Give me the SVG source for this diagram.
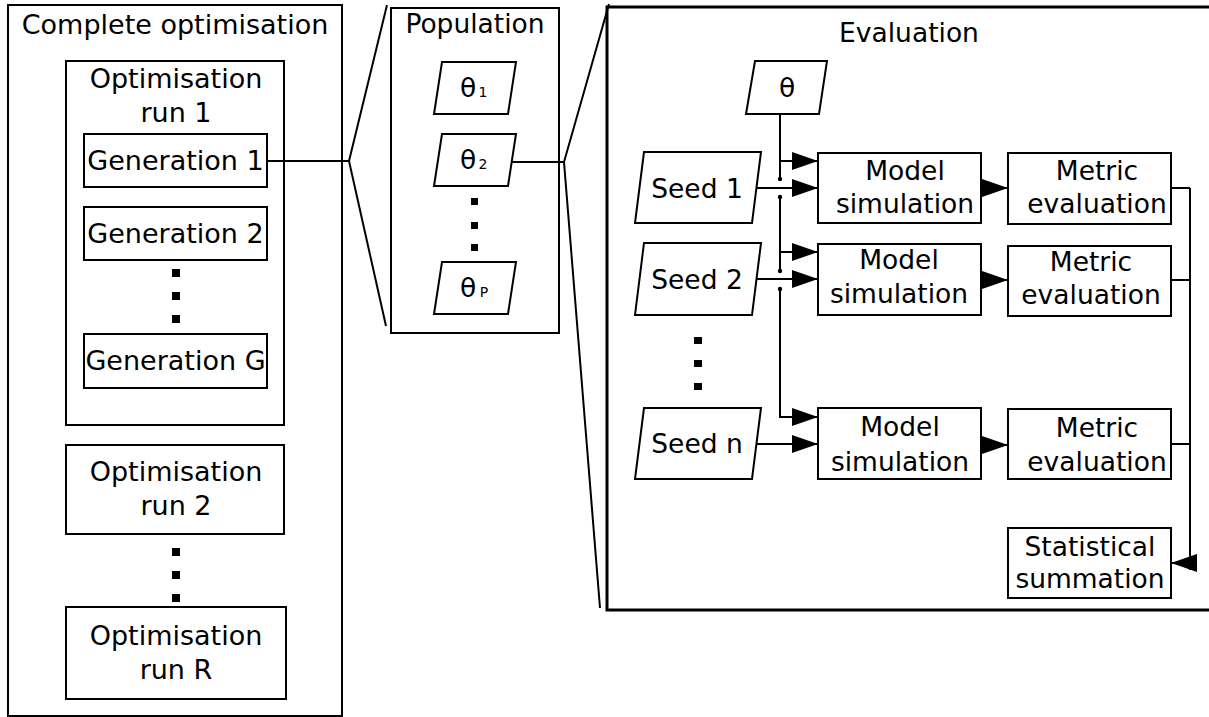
<svg xmlns="http://www.w3.org/2000/svg" width="1209" height="717" viewBox="0 0 1209 717">
<defs>
<style>
.b{fill:#fff;stroke:#000;stroke-width:2}
.t{font-family:"DejaVu Sans","Verdana",sans-serif;font-size:26.5px;fill:#000;text-anchor:middle}
.tl{font-size:27px}
.sub{font-size:14px}
.c{fill:none;stroke:#000;stroke-width:2}
.d{fill:#000}
</style>
<marker id="ah" viewBox="0 0 26 18" refX="26" refY="9" markerWidth="26" markerHeight="18" markerUnits="userSpaceOnUse" orient="auto">
<path d="M0,0 L26,9 L0,18 z" fill="#000"/>
</marker>
</defs>
<rect width="1209" height="717" fill="#fff"/>

<!-- Left panel -->
<g id="complete">
<rect class="b" x="8" y="5" width="334" height="711"/>
<text class="t tl" x="175" y="34">Complete optimisation</text>
</g>
<g id="run1">
<rect class="b" x="66" y="61" width="218" height="364"/>
<text class="t tl" x="176" y="88">Optimisation</text>
<text class="t tl" x="176" y="122">run 1</text>
</g>
<g id="gen1">
<rect class="b" x="84" y="134" width="183" height="53"/>
<text class="t tl" x="175.5" y="170">Generation 1</text>
</g>
<g id="gen2">
<rect class="b" x="84" y="207" width="183" height="53"/>
<text class="t tl" x="175.5" y="243">Generation 2</text>
</g>
<g id="genDots">
<rect class="d" x="172" y="269" width="8" height="8"/>
<rect class="d" x="172" y="292" width="8" height="8"/>
<rect class="d" x="172" y="315" width="8" height="8"/>
</g>
<g id="genG">
<rect class="b" x="84" y="334" width="183" height="54"/>
<text class="t tl" x="175.5" y="370">Generation G</text>
</g>
<g id="run2">
<rect class="b" x="66" y="445" width="218" height="89"/>
<text class="t tl" x="176" y="481">Optimisation</text>
<text class="t tl" x="176" y="515">run 2</text>
</g>
<g id="runDots">
<rect class="d" x="172" y="548" width="8" height="8"/>
<rect class="d" x="172" y="571" width="8" height="8"/>
<rect class="d" x="172" y="594" width="8" height="8"/>
</g>
<g id="runR">
<rect class="b" x="66" y="607" width="220" height="92"/>
<text class="t tl" x="176" y="645">Optimisation</text>
<text class="t tl" x="176" y="679">run R</text>
</g>

<!-- Population panel -->
<g id="population">
<rect class="b" x="391" y="8" width="168" height="325"/>
<text class="t" x="475" y="33">Population</text>
</g>
<g id="theta1">
<polygon class="b" points="442,62 516,62 508,114 434,114"/>
<text class="t" x="468" y="97">θ</text><text class="t sub" x="483" y="97">1</text>
</g>
<g id="theta2">
<polygon class="b" points="442,134 516,134 508,186 434,186"/>
<text class="t" x="468" y="169">θ</text><text class="t sub" x="483" y="169">2</text>
</g>
<g id="popDots">
<rect class="d" x="471" y="198" width="7" height="7"/>
<rect class="d" x="471" y="222" width="7" height="7"/>
<rect class="d" x="471" y="244" width="7" height="7"/>
</g>
<g id="thetaP">
<polygon class="b" points="442,262 516,262 508,314 434,314"/>
<text class="t" x="468" y="297">θ</text><text class="t sub" x="484" y="297">P</text>
</g>

<!-- Evaluation panel -->
<g id="evaluation">
<rect x="607" y="7" width="620" height="603" fill="#fff" stroke="#000" stroke-width="3"/>
<text class="t" x="909" y="42">Evaluation</text>
</g>
<g id="theta">
<polygon class="b" points="755,61 827,61 819,114 746,114"/>
<text class="t" x="787" y="97">θ</text>
</g>
<g id="seed1">
<polygon class="b" points="644,152 761,152 752,223 635,223"/>
<text class="t" x="697" y="198">Seed 1</text>
</g>
<g id="seed2">
<polygon class="b" points="644,243 761,243 752,315 635,315"/>
<text class="t" x="697" y="289">Seed 2</text>
</g>
<g id="seedDots">
<rect class="d" x="694" y="337" width="8" height="7"/>
<rect class="d" x="694" y="360" width="8" height="7"/>
<rect class="d" x="694" y="383" width="8" height="7"/>
</g>
<g id="seedn">
<polygon class="b" points="644,408 761,408 752,479 635,479"/>
<text class="t" x="697" y="453">Seed n</text>
</g>
<g id="model1">
<rect class="b" x="818" y="153" width="163" height="70"/>
<text class="t" x="905" y="180">Model</text>
<text class="t" x="905" y="213">simulation</text>
</g>
<g id="model2">
<rect class="b" x="818" y="244" width="163" height="71"/>
<text class="t" x="899" y="269">Model</text>
<text class="t" x="899" y="303">simulation</text>
</g>
<g id="modeln">
<rect class="b" x="818" y="408" width="163" height="71"/>
<text class="t" x="900" y="436">Model</text>
<text class="t" x="900" y="471">simulation</text>
</g>
<g id="metric1">
<rect class="b" x="1008" y="153" width="163" height="71"/>
<text class="t" x="1097" y="180">Metric</text>
<text class="t" x="1097" y="213">evaluation</text>
</g>
<g id="metric2">
<rect class="b" x="1008" y="246" width="163" height="70"/>
<text class="t" x="1091" y="271">Metric</text>
<text class="t" x="1091" y="304">evaluation</text>
</g>
<g id="metricn">
<rect class="b" x="1008" y="409" width="163" height="70"/>
<text class="t" x="1097" y="437">Metric</text>
<text class="t" x="1097" y="471">evaluation</text>
</g>
<g id="stat">
<rect class="b" x="1008" y="528" width="163" height="70"/>
<text class="t" x="1090" y="556">Statistical</text>
<text class="t" x="1090" y="588">summation</text>
</g>

<!-- Connectors -->
<g id="connectors">
<path class="c" d="M267,161 H349 M387,5 L349,161 L386,326"/>
<path class="c" d="M512,162 H564 M609,4 L564,162 L600,608"/>
<path class="c" d="M780,114 V179 M780,197 V271 M780,289 V417 H818" marker-end="url(#ah)"/>
<path class="c" d="M780,161 H818" marker-end="url(#ah)"/>
<path class="c" d="M780,252 H818" marker-end="url(#ah)"/>
<circle class="d" cx="780" cy="179" r="2.2"/>
<circle class="d" cx="780" cy="197" r="2.2"/>
<circle class="d" cx="780" cy="271" r="2.2"/>
<circle class="d" cx="780" cy="289" r="2.2"/>
<path class="c" d="M756,188 H818" marker-end="url(#ah)"/>
<path class="c" d="M756,279 H818" marker-end="url(#ah)"/>
<path class="c" d="M756,444 H818" marker-end="url(#ah)"/>
<path class="c" d="M981,188 H1008" marker-end="url(#ah)"/>
<path class="c" d="M981,280 H1008" marker-end="url(#ah)"/>
<path class="c" d="M981,445 H1008" marker-end="url(#ah)"/>
<path class="c" d="M1171,188 H1190 M1171,280 H1190 M1171,444 H1190"/>
<path class="c" d="M1190,188 V570"/>
<path class="c" d="M1190,563 H1171" marker-end="url(#ah)"/>
</g>
</svg>
